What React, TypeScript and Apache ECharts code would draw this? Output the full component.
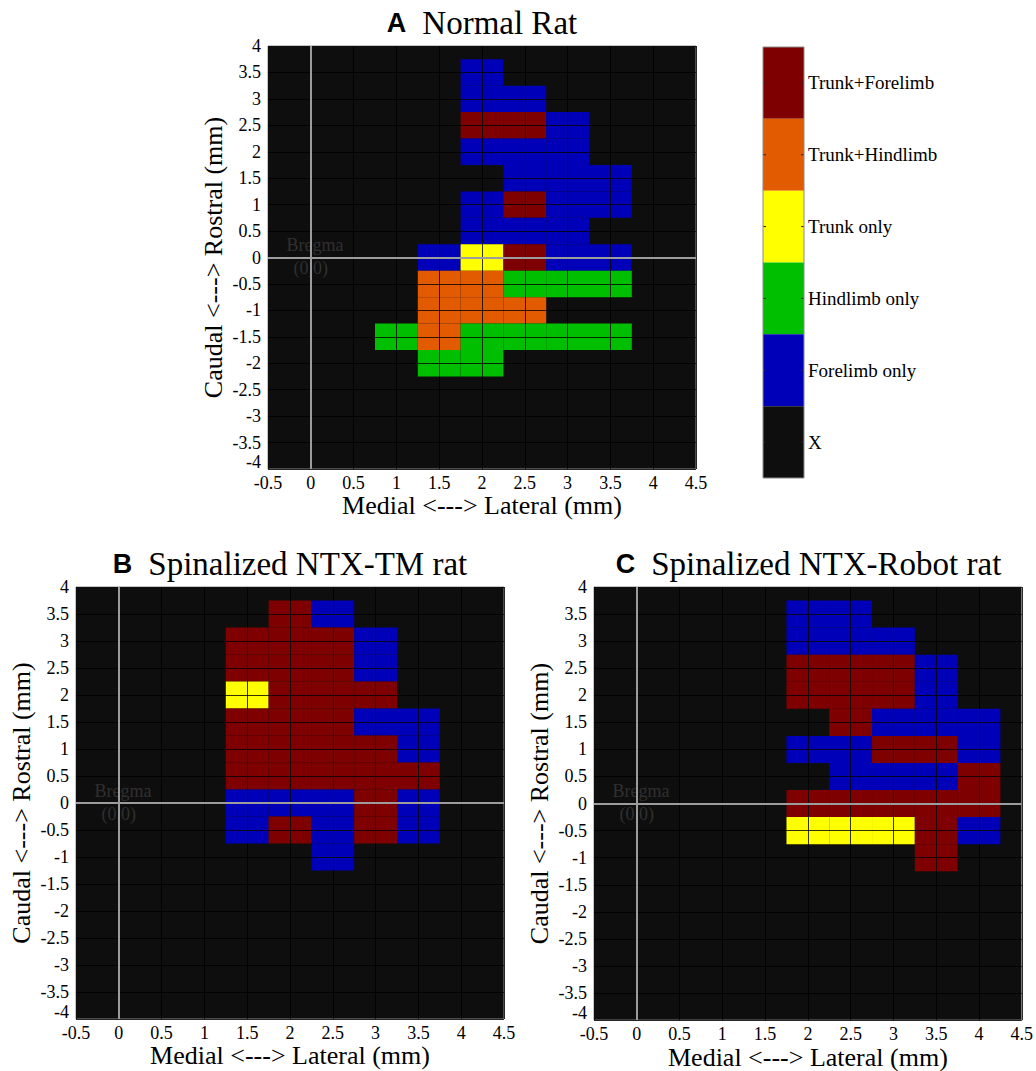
import React, { useEffect, useRef } from "react";
import * as echarts from "echarts";

// Response categories (index = code used in the cell lists)
const categoryNames = ["X", "Forelimb only", "Hindlimb only", "Trunk only", "Trunk+Hindlimb", "Trunk+Forelimb"];
const categoryColors = ["#0e0e0e", "#0000b8", "#00bf00", "#ffff00", "#e35b00", "#7f0000"];

const F = 1; // Forelimb only
const H = 2; // Hindlimb only
const T = 3; // Trunk only
const TH = 4; // Trunk+Hindlimb
const TF = 5; // Trunk+Forelimb

// [lateral (mm), rostral (mm), category]
const normalCells = [
  [2, 3.5, F],
  [2, 3, F], [2.5, 3, F],
  [2, 2.5, TF], [2.5, 2.5, TF], [3, 2.5, F],
  [2, 2, F], [2.5, 2, F], [3, 2, F],
  [2.5, 1.5, F], [3, 1.5, F], [3.5, 1.5, F],
  [2, 1, F], [2.5, 1, TF], [3, 1, F], [3.5, 1, F],
  [2, 0.5, F], [2.5, 0.5, F], [3, 0.5, F],
  [1.5, 0, F], [2, 0, T], [2.5, 0, TF], [3, 0, F], [3.5, 0, F],
  [1.5, -0.5, TH], [2, -0.5, TH], [2.5, -0.5, H], [3, -0.5, H], [3.5, -0.5, H],
  [1.5, -1, TH], [2, -1, TH], [2.5, -1, TH],
  [1, -1.5, H], [1.5, -1.5, TH], [2, -1.5, H], [2.5, -1.5, H], [3, -1.5, H], [3.5, -1.5, H],
  [1.5, -2, H], [2, -2, H],
];

const tmCells = [
  [2, 3.5, TF], [2.5, 3.5, F],
  [1.5, 3, TF], [2, 3, TF], [2.5, 3, TF], [3, 3, F],
  [1.5, 2.5, TF], [2, 2.5, TF], [2.5, 2.5, TF], [3, 2.5, F],
  [1.5, 2, T], [2, 2, TF], [2.5, 2, TF], [3, 2, TF],
  [1.5, 1.5, TF], [2, 1.5, TF], [2.5, 1.5, TF], [3, 1.5, F], [3.5, 1.5, F],
  [1.5, 1, TF], [2, 1, TF], [2.5, 1, TF], [3, 1, TF], [3.5, 1, F],
  [1.5, 0.5, TF], [2, 0.5, TF], [2.5, 0.5, TF], [3, 0.5, TF], [3.5, 0.5, TF],
  [1.5, 0, F], [2, 0, F], [2.5, 0, F], [3, 0, TF], [3.5, 0, F],
  [1.5, -0.5, F], [2, -0.5, TF], [2.5, -0.5, F], [3, -0.5, TF], [3.5, -0.5, F],
  [2.5, -1, F],
];

const robotCells = [
  [2, 3.5, F], [2.5, 3.5, F],
  [2, 3, F], [2.5, 3, F], [3, 3, F],
  [2, 2.5, TF], [2.5, 2.5, TF], [3, 2.5, TF], [3.5, 2.5, F],
  [2, 2, TF], [2.5, 2, TF], [3, 2, TF], [3.5, 2, F],
  [2.5, 1.5, TF], [3, 1.5, F], [3.5, 1.5, F], [4, 1.5, F],
  [2, 1, F], [2.5, 1, F], [3, 1, TF], [3.5, 1, TF], [4, 1, F],
  [2.5, 0.5, F], [3, 0.5, F], [3.5, 0.5, F], [4, 0.5, TF],
  [2, 0, TF], [2.5, 0, TF], [3, 0, TF], [3.5, 0, TF], [4, 0, TF],
  [2, -0.5, T], [2.5, -0.5, T], [3, -0.5, T], [3.5, -0.5, TF], [4, -0.5, F],
  [3.5, -1, TF],
];

const panelLetters = ["A", "B", "C"];
const panelTitles = ["Normal Rat", "Spinalized NTX-TM rat", "Spinalized NTX-Robot rat"];
const panelCells = [normalCells, tmCells, robotCells];

const xName = "Medial <---> Lateral (mm)";
const yName = "Caudal <---> Rostral (mm)";
const bregmaLabels = ["Bregma", "(0,0)"];

const SERIF = "'Liberation Serif', 'Times New Roman', serif";
const SANS = "'Liberation Sans', Arial, sans-serif";

const grids = [
  { left: 268, top: 46, width: 428, height: 423 },
  { left: 76, top: 587, width: 428, height: 432 },
  { left: 594, top: 587, width: 429, height: 435 },
];

export default function App() {
  const ref = useRef<HTMLDivElement>(null);

  useEffect(() => {
    if (!ref.current) return;
    const chart = echarts.init(ref.current, undefined, { renderer: "svg" });

    const xAxes = grids.map((_, i) => ({
      type: "value",
      gridIndex: i,
      min: -0.5,
      max: 4.5,
      interval: 0.5,
      z: 3,
      axisLine: { show: false },
      axisTick: { show: false },
      axisLabel: { color: "#000", fontSize: 18, fontFamily: SERIF, margin: 5 },
      splitLine: { show: true, lineStyle: { color: "rgba(0,0,0,0.8)", width: 1 } },
      name: xName,
      nameLocation: "middle",
      nameGap: 22,
      nameTextStyle: { color: "#000", fontSize: 26, fontFamily: SERIF },
    }));

    const yAxes = grids.map((_, i) => ({
      type: "value",
      gridIndex: i,
      min: -4,
      max: 4,
      interval: 0.5,
      z: 3,
      axisLine: { show: false },
      axisTick: { show: false },
      axisLabel: {
        color: "#000",
        fontSize: 18,
        fontFamily: SERIF,
        margin: 7,
        formatter: (v: number) => (v === -4 ? "{low|-4}" : String(v)),
        rich: { low: { color: "#000", fontSize: 18, fontFamily: SERIF, padding: [0, 0, 14, 0] } },
      },
      splitLine: { show: true, lineStyle: { color: "rgba(0,0,0,0.8)", width: 1 } },
      name: yName,
      nameLocation: "middle",
      nameGap: 42,
      nameTextStyle: { color: "#000", fontSize: 26, fontFamily: SERIF },
    }));

    const series = panelCells.map((cells, i) => ({
      type: "custom",
      xAxisIndex: i,
      yAxisIndex: i,
      z: 2,
      silent: true,
      encode: { x: 0, y: 1 },
      data: cells,
      renderItem: (params: any, api: any) => {
        const x = api.value(0);
        const y = api.value(1);
        const c = api.value(2);
        const p1 = api.coord([x - 0.25, y + 0.25]);
        const p2 = api.coord([x + 0.25, y - 0.25]);
        return {
          type: "rect",
          shape: { x: p1[0], y: p1[1], width: p2[0] - p1[0], height: p2[1] - p1[1] },
          style: { fill: categoryColors[c] },
        };
      },
      markLine: {
        silent: true,
        z: 6,
        symbol: ["none", "none"],
        label: { show: false },
        lineStyle: { color: "#9c9c9c", width: 2, type: "solid" },
        data: [{ xAxis: 0 }, { yAxis: 0 }],
      },
      markPoint: {
        silent: true,
        z: 4,
        symbol: "circle",
        symbolSize: 0,
        label: { show: true, position: "inside", color: "#303030", fontSize: 18, fontFamily: SERIF },
        data: [
          { coord: [0.05, 0.23], label: { formatter: bregmaLabels[0] } },
          { coord: [0, -0.2], label: { formatter: bregmaLabels[1] } },
        ],
      },
    }));

    const titleGraphics = grids.map((g, i) => ({
      type: "text",
      x: g.left + g.width / 2,
      y: g.top - 23,
      style: {
        text: `{b|${panelLetters[i]}}{n|${panelTitles[i]}}`,
        align: "center",
        verticalAlign: "middle",
        rich: {
          b: { fontFamily: SANS, fontWeight: "bold", fontSize: 27, fill: "#000", color: "#000", padding: [0, 16, 0, 0] },
          n: { fontFamily: SERIF, fontSize: 33, fill: "#000", color: "#000" },
        },
      },
    }));

    // Colour bar legend
    const barLeft = 763;
    const barTop = 47;
    const barW = 41;
    const barH = 431;
    const seg = barH / categoryNames.length;
    const legendGraphics: any[] = [];
    const n = categoryNames.length;
    for (let k = 0; k < n; k++) {
      const idx = n - 1 - k;
      const top = barTop + k * seg;
      legendGraphics.push({
        type: "rect",
        shape: { x: barLeft, y: top, width: barW, height: seg },
        style: { fill: categoryColors[idx] },
      });
      legendGraphics.push({
        type: "line",
        shape: { x1: barLeft, y1: top + seg / 2, x2: barLeft + 3, y2: top + seg / 2 },
        style: { stroke: "#222", lineWidth: 1 },
      });
      legendGraphics.push({
        type: "line",
        shape: { x1: barLeft + barW - 3, y1: top + seg / 2, x2: barLeft + barW, y2: top + seg / 2 },
        style: { stroke: "#222", lineWidth: 1 },
      });
      legendGraphics.push({
        type: "text",
        x: barLeft + barW + 4,
        y: top + seg / 2,
        style: {
          text: categoryNames[idx],
          fontFamily: SERIF,
          fontSize: 19,
          fill: "#000",
          align: "left",
          verticalAlign: "middle",
        },
      });
    }
    legendGraphics.push({
      type: "rect",
      shape: { x: barLeft, y: barTop, width: barW, height: barH },
      style: { fill: "none", stroke: "#8a8a8a", lineWidth: 1 },
    });

    chart.setOption({
      animation: false,
      backgroundColor: "#ffffff",
      grid: grids.map((g) => ({
        ...g,
        show: true,
        backgroundColor: "#0e0e0e",
        borderColor: "#8a8a8a",
        borderWidth: 1,
        containLabel: false,
      })),
      xAxis: xAxes,
      yAxis: yAxes,
      series,
      graphic: [...titleGraphics, ...legendGraphics],
    });

    return () => chart.dispose();
  }, []);

  return (
    <div
      ref={ref}
      style={{ position: "absolute", left: 0, top: 0, width: 1036, height: 1071, background: "#fff" }}
    />
  );
}
